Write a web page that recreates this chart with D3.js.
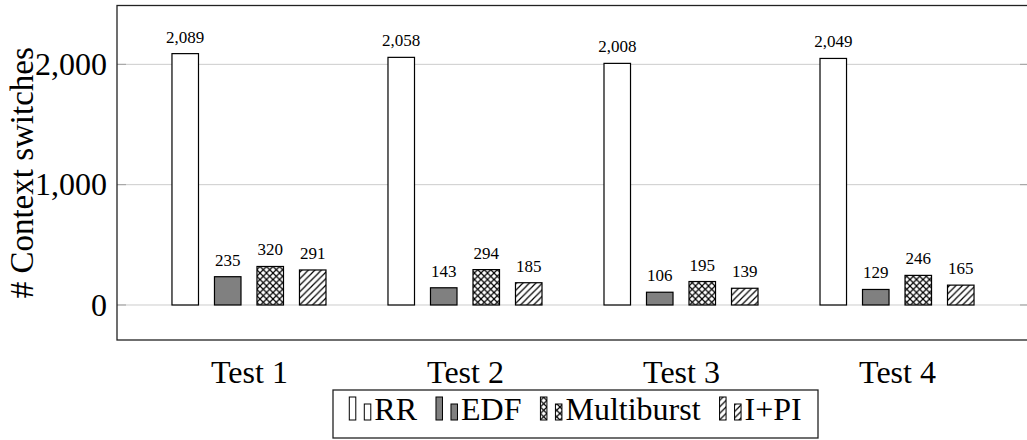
<!DOCTYPE html>
<html>
<head>
<meta charset="utf-8">
<script src="https://cdn.jsdelivr.net/npm/d3@7"></script>
<style>
  html, body { margin: 0; padding: 0; background: #fff; }
</style>
</head>
<body>
<svg id="chart" width="1027" height="440" font-family="Liberation Serif"></svg>
<script>
// Context switches per scheduler, for four test runs
const tests = ["Test 1", "Test 2", "Test 3", "Test 4"];
const schedulers = ["RR", "EDF", "Multiburst", "I+PI"];
const rrValues = [2089, 2058, 2008, 2049];
const edfValues = [235, 143, 106, 129];
const multiburstValues = [320, 294, 195, 246];
const ipiValues = [291, 185, 139, 165];
const yTicks = [0, 1000, 2000];
const yLabel = "# Context switches";

const seriesValues = [rrValues, edfValues, multiburstValues, ipiValues];
const SERIF = '"Liberation Serif"';

function serif(sel, size) {
  return sel.attr("font-family", "Liberation Serif").attr("font-size", size)
    .style("font-family", SERIF).style("font-size", size + "px").attr("fill", "#000");
}

const svg = d3.select("#chart");
const plot = { left: 117, right: 1029, top: 5.5, bottom: 340 };

const x = d3.scalePoint().domain(tests).range([plot.left, plot.right]).padding(0.611);
const xInner = d3.scaleBand().domain(schedulers).range([-85, 85]).paddingInner(0.376).paddingOuter(0.188);
const y = d3.scaleLinear().domain([-291, 2489]).range([plot.bottom, plot.top]);

// Fill patterns
const defs = svg.append("defs");
const P = 6.5;
function hatch(id, both) {
  const p = defs.append("pattern").attr("id", id)
    .attr("patternUnits", "userSpaceOnUse").attr("width", P).attr("height", P);
  p.append("rect").attr("width", P).attr("height", P).attr("fill", "#fff");
  p.append("path")
    .attr("d", `M-1,1 L1,-1 M0,${P} L${P},0 M${P - 1},${P + 1} L${P + 1},${P - 1}`)
    .attr("stroke", "#000").attr("stroke-width", 1.2);
  if (both) {
    p.append("path")
      .attr("d", `M-1,${P - 1} L1,${P + 1} M0,0 L${P},${P} M${P - 1},-1 L${P + 1},1`)
      .attr("stroke", "#000").attr("stroke-width", 1.2);
  }
}
hatch("crosshatch", true);
hatch("nelines", false);
const fills = ["#ffffff", "#808080", "url(#crosshatch)", "url(#nelines)"];

// Horizontal grid and tick marks
const grid = svg.append("g");
yTicks.forEach(t => {
  grid.append("line").attr("x1", plot.left).attr("x2", plot.right)
    .attr("y1", y(t)).attr("y2", y(t))
    .attr("stroke", "#cccccc").attr("stroke-width", 1);
  grid.append("line").attr("x1", plot.left).attr("x2", plot.left + 9)
    .attr("y1", y(t)).attr("y2", y(t))
    .attr("stroke", "#a0a0a0").attr("stroke-width", 1);
  grid.append("line").attr("x1", plot.right - 9).attr("x2", plot.right)
    .attr("y1", y(t)).attr("y2", y(t))
    .attr("stroke", "#a0a0a0").attr("stroke-width", 1);
});

// Y axis tick labels
const yAxis = d3.axisLeft(y).tickValues(yTicks).tickFormat(d3.format(",")).tickSize(0).tickPadding(10);
const yg = svg.append("g").attr("transform", `translate(${plot.left},0)`).call(yAxis);
yg.select(".domain").remove();
serif(yg, 32);
serif(yg.selectAll("text"), 32);

// X axis labels
const xAxis = d3.axisBottom(x).tickSize(0).tickPadding(20);
const xg = svg.append("g").attr("transform", `translate(0,${plot.bottom})`).call(xAxis);
xg.select(".domain").remove();
serif(xg, 32);
serif(xg.selectAll("text"), 32);

// Bars with value labels
const fmt = d3.format(",");
schedulers.forEach((s, si) => {
  const g = svg.append("g");
  serif(g, 17);
  tests.forEach((t, ti) => {
    const v = seriesValues[si][ti];
    const bx = x(t) + xInner(s);
    g.append("rect")
      .attr("x", bx).attr("y", y(v))
      .attr("width", xInner.bandwidth()).attr("height", y(0) - y(v))
      .attr("fill", fills[si]).attr("stroke", "#000").attr("stroke-width", 1.2);
    serif(g.append("text"), 17)
      .attr("x", bx + xInner.bandwidth() / 2).attr("y", y(v) - 11)
      .attr("text-anchor", "middle")
      .text(fmt(v));
  });
});

// Plot frame
svg.append("rect").attr("x", plot.left).attr("y", plot.top)
  .attr("width", plot.right - plot.left).attr("height", plot.bottom - plot.top)
  .attr("fill", "none").attr("stroke", "#222").attr("stroke-width", 1.3);

// Y axis title
const titleG = svg.append("g")
  .attr("transform", `translate(33,${(plot.top + plot.bottom) / 2}) rotate(-90)`);
serif(titleG, 33);
serif(titleG.append("text"), 33)
  .attr("text-anchor", "middle")
  .text(yLabel);

// Legend
const legend = svg.append("g");
const items = legend.append("g");
serif(items, 32);
const gap = 19;
let cx = 0;
schedulers.forEach((s, si) => {
  const it = items.append("g").attr("transform", `translate(${cx},0)`);
  it.append("rect").attr("x", 0).attr("y", -23).attr("width", 6.5).attr("height", 23)
    .attr("fill", fills[si]).attr("stroke", "#000").attr("stroke-width", 1);
  it.append("rect").attr("x", 15).attr("y", -16).attr("width", 6.5).attr("height", 16)
    .attr("fill", fills[si]).attr("stroke", "#000").attr("stroke-width", 1);
  const tx = serif(it.append("text"), 32).attr("x", 25).attr("y", 0).text(s);
  const w = tx.node().getComputedTextLength();
  cx += 25 + w + gap;
});
const totalW = cx - gap;
const boxW = 485, boxH = 48;
const boxX = 333, boxY = 390;
legend.insert("rect", ":first-child").attr("x", boxX).attr("y", boxY)
  .attr("width", boxW).attr("height", boxH)
  .attr("fill", "#fff").attr("stroke", "#222").attr("stroke-width", 1.3);
items.attr("transform", `translate(${boxX + (boxW - totalW) / 2},420)`);
</script>
</body>
</html>
